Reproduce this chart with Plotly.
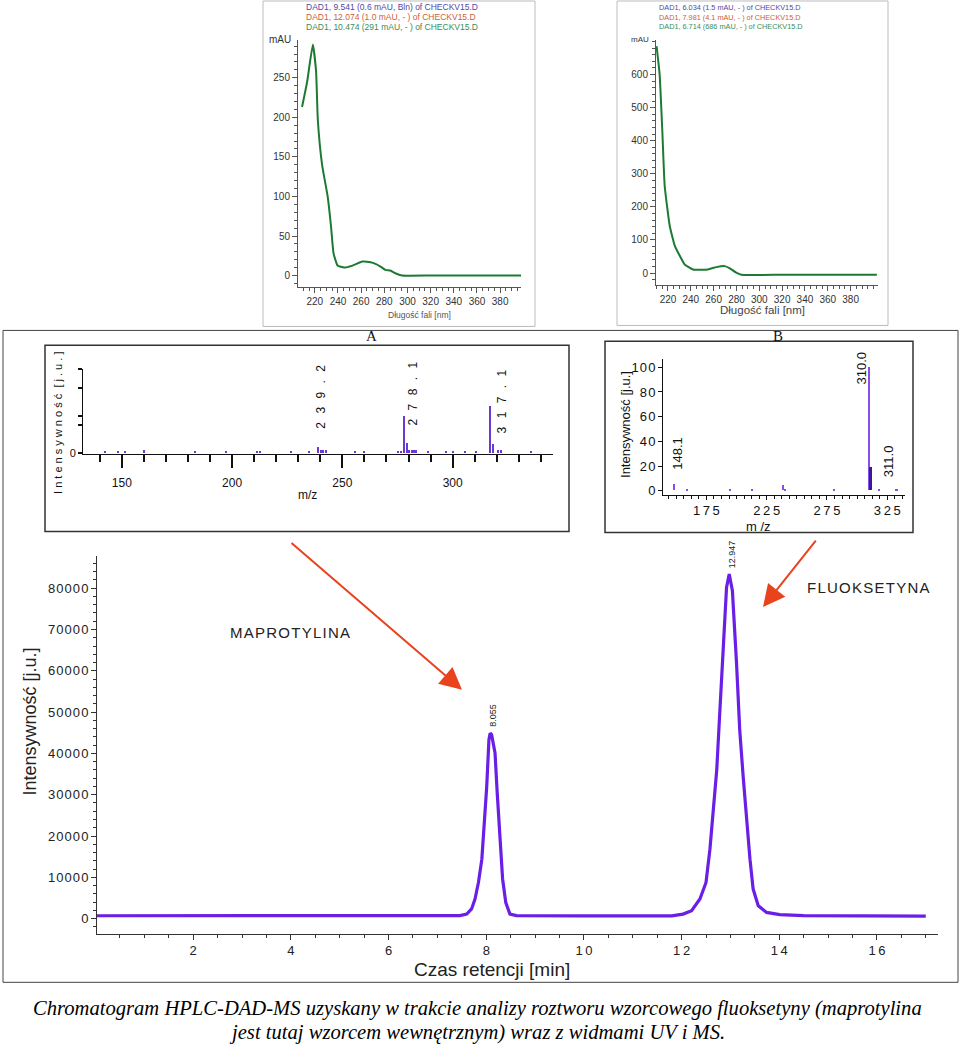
import plotly.graph_objects as go

# ---------------------------------------------------------------- data
uvA_wavelength = [209, 213.4, 218.3, 221.1, 222.6, 226.3, 231.1, 234, 236.2, 239.7, 245.4, 252.5,
                  261, 268.1, 272.4, 276.7, 280.9, 285.2, 289.5, 295.2, 320, 350, 398]
uvA_absorbance = [213, 245, 292, 258, 197, 140, 100, 62, 28, 12.6, 10.1, 12.6,
                  17.7, 16.8, 14.7, 11.4, 7.2, 6.3, 2.9, 0, 0, 0, 0]
uvA_legend = ["DAD1, 9.541 (0.6 mAU, Bln) of CHECKV15.D",
              "DAD1, 12.074 (1.0 mAU, - ) of CHECKV15.D",
              "DAD1, 10.474 (291 mAU, - ) of CHECKV15.D"]

uvB_wavelength = [210, 212.7, 215.1, 217.1, 221.5, 225.9, 230.2, 234.6, 241.9, 255, 262.3, 269.6,
                  273.9, 279.8, 284.1, 320, 360, 403]
uvB_absorbance = [686, 600, 424, 264, 143, 83, 53, 26, 11, 11, 18, 21,
                  15, 1, -5, -5, -5, -5]
uvB_legend = ["DAD1, 6.034 (1.5 mAU, - ) of CHECKV15.D",
              "DAD1, 7.981 (4.1 mAU, - ) of CHECKV15.D",
              "DAD1, 6.714 (686 mAU, - ) of CHECKV15.D"]

uv_xticks = [220, 240, 260, 280, 300, 320, 340, 360, 380]
uvA_yticks = [0, 50, 100, 150, 200, 250]
uvB_yticks = [0, 100, 200, 300, 400, 500, 600]

msA_mz = [142.4, 148.2, 151.5, 160.1, 183.2, 197.1, 211.2, 212.7, 226.6, 235.1, 239.2, 240.2,
          241.4, 242.5, 255.8, 259.8, 275.4, 276.5, 278.1, 279.2, 280.2, 281.5, 282.5, 283.4,
          289.0, 296.9, 300.3, 305.6, 310.6, 317.1, 318.2, 320.7, 321.8, 335.4]
msA_intensity = [2, 2, 2, 3, 2, 2, 2, 2, 2, 2, 6, 3,
                 3, 3, 2, 2, 2, 2, 37, 10, 3, 3, 3, 3,
                 2, 2, 2, 2, 2, 47, 9, 3, 3, 2]
msA_peak_mz = [239.2, 278.1, 317.1]
msA_peak_labels = ["239.2", "278.1", "317.1"]
msA_xticks = [150, 200, 250, 300]

msB_mz = [148.1, 159.1, 195.0, 213.3, 238.7, 240.4, 281.0, 310.0, 311.0, 318.4, 332.8]
msB_intensity = [5, 1, 1, 1, 4, 1, 1, 100, 19, 1, 1]
msB_peak_mz = [148.1, 310.0, 311.0]
msB_peak_labels = ["148.1", "310.0", "311.0"]
msB_xticks = [175, 225, 275, 325]
msB_yticks = [0, 20, 40, 60, 80, 100]

chrom_time = [0.03, 1, 2, 3, 4, 5, 6, 7, 7.46, 7.60, 7.70, 7.77, 7.84, 7.91, 7.96, 8.01, 8.055,
              8.08, 8.11, 8.18, 8.225, 8.28, 8.335, 8.40, 8.485, 8.62, 9, 10, 11, 11.8, 12.03,
              12.205, 12.375, 12.50, 12.58, 12.65, 12.72, 12.77, 12.825, 12.87, 12.92, 12.975,
              13.04, 13.125, 13.19, 13.26, 13.33, 13.40, 13.465, 13.57, 13.74, 14.01, 14.5, 15,
              15.5, 16, 16.3, 16.6, 17.0]
chrom_intensity = [700, 700, 700, 700, 700, 700, 700, 700, 720, 1100, 2340, 4750, 8750, 14400,
                   22400, 32000, 43300, 44900, 44500, 40100, 30400, 18400, 9600, 3900, 1100, 720,
                   650, 650, 650, 680, 1100, 1930, 4750, 8750, 16800, 25600, 36100, 47300, 60200,
                   72200, 80200, 83450, 79400, 61800, 45700, 34500, 24000, 14400, 7150, 3130,
                   1500, 960, 750, 700, 700, 650, 750, 600, 600]
chrom_peak_time = [8.08, 12.975]
chrom_peak_height = [44900, 83450]
chrom_peak_labels = ["8.055", "12.947"]
chrom_xticks = [2, 4, 6, 8, 10, 12, 14, 16]
chrom_yticks = [0, 10000, 20000, 30000, 40000, 50000, 60000, 70000, 80000]

# ---------------------------------------------------------------- helpers
W, H = 960, 1054
SANS = "Liberation Sans, Arial, sans-serif"
SERIF = "Liberation Serif, Times New Roman, serif"


def px(x):
    return x / W


def py(y):
    return 1 - y / H


def spaced(s, sep="\u200a"):
    return sep.join(list(s))


fig = go.Figure()

GREEN = "#1c7a32"
# UV spectra
fig.add_trace(go.Scatter(x=uvA_wavelength, y=uvA_absorbance, mode="lines",
                         line=dict(color=GREEN, width=2, shape="spline", smoothing=0.4),
                         xaxis="x", yaxis="y"))
fig.add_trace(go.Scatter(x=uvB_wavelength, y=uvB_absorbance, mode="lines",
                         line=dict(color=GREEN, width=2, shape="spline", smoothing=0.4),
                         xaxis="x2", yaxis="y2"))

# MS A
fig.add_trace(go.Bar(x=msA_mz, y=msA_intensity, width=0.55, marker=dict(color="#6a3ad0", line=dict(width=0)),
                     xaxis="x3", yaxis="y3"))
# MS B
msB_width = [2.4 if m == 311.0 else 1.4 for m in msB_mz]
msB_color = ["#3a1a9a" if m == 311.0 else "#8a4ee8" for m in msB_mz]
fig.add_trace(go.Bar(x=msB_mz, y=msB_intensity, width=msB_width,
                     marker=dict(color=msB_color, line=dict(width=0)),
                     xaxis="x4", yaxis="y4"))

# Chromatogram
fig.add_trace(go.Scatter(x=chrom_time, y=chrom_intensity, mode="lines",
                         line=dict(color="#6a1fe6", width=3.2),
                         xaxis="x5", yaxis="y5"))

# ---------------------------------------------------------------- axes
def base_axis(**kw):
    d = dict(showgrid=False, zeroline=False, showline=True, linecolor="#333", linewidth=1,
             ticks="outside", tickcolor="#333", tickwidth=1, fixedrange=True)
    d.update(kw)
    return d


layout = dict(
    width=W, height=H, margin=dict(l=0, r=0, t=0, b=0),
    paper_bgcolor="white", plot_bgcolor="rgba(0,0,0,0)", showlegend=False, bargap=0,
    font=dict(family=SANS, color="#222"),
)

# UV A
layout["xaxis"] = base_axis(domain=[px(298), px(521)], range=[205.5, 398], anchor="y",
                            tickvals=uv_xticks, ticklen=5, linecolor="#555", tickcolor="#555",
                            tickfont=dict(size=10, color="#333"),
                            minor=dict(dtick=5, tick0=0, ticklen=3, ticks="outside", tickcolor="#555"))
layout["yaxis"] = base_axis(domain=[py(288), py(40)], range=[-14, 298], anchor="x",
                            tickvals=uvA_yticks, ticklen=5, linecolor="#555", tickcolor="#555",
                            tickfont=dict(size=10, color="#333"),
                            minor=dict(dtick=10, tick0=0, ticklen=3, ticks="outside", tickcolor="#555"))
# UV B
layout["xaxis2"] = base_axis(domain=[px(656), px(878)], range=[209.5, 404], anchor="y2",
                             tickvals=uv_xticks, ticklen=5, linecolor="#555", tickcolor="#555",
                             tickfont=dict(size=10, color="#333"),
                             minor=dict(dtick=5, tick0=0, ticklen=3, ticks="outside", tickcolor="#555"))
layout["yaxis2"] = base_axis(domain=[py(286), py(40)], range=[-35, 705], anchor="x2",
                             tickvals=uvB_yticks, ticklen=5, linecolor="#555", tickcolor="#555",
                             tickfont=dict(size=10, color="#333"),
                             minor=dict(dtick=20, tick0=0, ticklen=3, ticks="outside", tickcolor="#555"))
# MS A
layout["xaxis3"] = base_axis(domain=[px(83), px(553)], range=[132.4, 345.5], anchor="y3",
                             tickvals=msA_xticks, ticklen=13, linecolor="#111", tickcolor="#111",
                             tickwidth=1.5, ticklabelstandoff=5,
                             tickfont=dict(size=12, color="#111"),
                             minor=dict(dtick=10, tick0=0, ticklen=7, ticks="outside", tickcolor="#111",
                                        tickwidth=1.5))
layout["yaxis3"] = base_axis(domain=[py(456), py(371)], range=[-1, 84], anchor="x3",
                             tickvals=[0, 28, 37, 65, 84], ticktext=["0", "", "", "", ""],
                             ticklen=4, linecolor="#111", tickcolor="#111", tickwidth=1.5,
                             tickfont=dict(size=11, color="#111"))
# MS B
layout["xaxis4"] = base_axis(domain=[px(663), px(905)], range=[139, 339.7], anchor="y4",
                             tickvals=msB_xticks, ticktext=[spaced(str(t), "\u2009") for t in msB_xticks],
                             ticklen=4, linecolor="#111", tickcolor="#111",
                             tickfont=dict(size=13, color="#111"),
                             minor=dict(dtick=6.25, tick0=0, ticklen=3, ticks="outside", tickcolor="#111"))
layout["yaxis4"] = base_axis(domain=[py(497), py(361)], range=[-3.2, 106.5], anchor="x4",
                             tickvals=msB_yticks, ticktext=[spaced(str(t), "\u200a") for t in msB_yticks],
                             ticklen=4, linecolor="#111", tickcolor="#111",
                             tickfont=dict(size=13, color="#111"))
# Chromatogram
layout["xaxis5"] = base_axis(domain=[px(97), px(938)], range=[0.03, 17.25], anchor="y5",
                             tickvals=chrom_xticks, ticktext=[spaced(str(t), "\u2009") for t in chrom_xticks],
                             ticklen=5, tickfont=dict(size=13, color="#222"),
                             minor=dict(dtick=0.5, tick0=0, ticklen=3, ticks="outside", tickcolor="#333"))
layout["yaxis5"] = base_axis(domain=[py(938), py(559)], range=[-3614, 87711], anchor="x5",
                             tickvals=chrom_yticks, ticktext=[spaced(str(t), "\u200a") for t in chrom_yticks],
                             ticklen=5, tickfont=dict(size=13, color="#222"),
                             minor=dict(dtick=2000, tick0=0, ticklen=3, ticks="outside", tickcolor="#333"))

# ---------------------------------------------------------------- frames
shapes = []


def rect(x0, y0, x1, y1, color, width):
    shapes.append(dict(type="rect", xref="paper", yref="paper", x0=px(x0), x1=px(x1),
                       y0=py(y1), y1=py(y0), line=dict(color=color, width=width),
                       fillcolor="rgba(0,0,0,0)", layer="below"))


rect(263, 1, 535, 328, "#bcbcbc", 1)
rect(617, 1, 888, 327, "#bcbcbc", 1)
rect(3, 332, 958, 987, "#444", 1)
rect(45, 347, 569, 534, "#333", 1.5)
rect(605, 343, 913, 535, "#333", 1.5)
layout["shapes"] = shapes

# ---------------------------------------------------------------- annotations
ann = []


def text(x, y, s, size, color="#222", family=SANS, angle=0, xanchor="center", yanchor="middle", **kw):
    d = dict(x=px(x), y=py(y), xref="paper", yref="paper", text=s, showarrow=False,
             font=dict(size=size, color=color, family=family), textangle=angle,
             xanchor=xanchor, yanchor=yanchor)
    d.update(kw)
    ann.append(d)


legend_colors = ["#5546a8", "#cc5e3c", "#3a8c5c"]
for i, s in enumerate(uvA_legend):
    text(304, 7.5 + 9.8 * i, s, 8.5, legend_colors[i], xanchor="left")
for i, s in enumerate(uvB_legend):
    text(657, 7.5 + 9.8 * i, s, 7.3, legend_colors[i], xanchor="left")

text(280, 40, "mAU", 10, "#333")
text(640, 40, "mAU", 8, "#333")
text(419, 317, "Długość fali [nm]", 8.5, "#555")
text(762, 311, "Długość fali [nm]", 11.5, "#444")

text(371, 338, "A", 15, "#111", family=SERIF)
text(778, 338, "B", 15, "#111", family=SERIF)

# MS A texts
text(58, 425, " ".join(list("Intensywność")) + "  " + " ".join(list("[j.u.]")), 11, "#111", angle=-90)
text(307, 497, "m/z", 12, "#111")
msA_label_shift = [3, 9, 12]
msA_label_y = [399, 395, 403]
for m, s, dx, yy in zip(msA_peak_mz, msA_peak_labels, msA_label_shift, msA_label_y):
    ann.append(dict(x=m, y=py(yy), xref="x3", yref="paper", text=spaced(s, "\u2002\u2009"),
                    showarrow=False, textangle=-90, xshift=dx,
                    font=dict(size=12, color="#111", family=SANS)))

# MS B texts
text(626, 427, "Intensywność [j.u.]", 13, "#111", angle=-90)
text(758, 529, "m /z", 13, "#111")
msB_label_shift = [4, -8, 18]
msB_label_y = [455, 370, 463]
for m, s, dx, yy in zip(msB_peak_mz, msB_peak_labels, msB_label_shift, msB_label_y):
    ann.append(dict(x=m, y=py(yy), xref="x4", yref="paper", text=s,
                    showarrow=False, textangle=-90, xshift=dx,
                    font=dict(size=13, color="#111", family=SANS)))

# Chromatogram texts
text(30, 725, "Intensywność [j.u.]", 18, "#222", angle=-90)
text(492, 974, "Czas retencji [min]", 19, "#222")
text(290, 636, spaced("MAPROTYLINA", "\u200a"), 15, "#222")
text(868, 590, spaced("FLUOKSETYNA", "\u200a"), 15, "#222")
for t, h, s in zip(chrom_peak_time, chrom_peak_height, chrom_peak_labels):
    ann.append(dict(x=t, y=h, xref="x5", yref="y5", text=s, showarrow=False, textangle=-90,
                    yanchor="bottom", yshift=4, xshift=3,
                    font=dict(size=9, color="#222", family=SANS)))

# arrows
RED = "#e8431c"
ann.append(dict(x=px(462), y=py(693), xref="paper", yref="paper", text="", showarrow=True,
                ax=290 - 462, ay=545 - 693, axref="pixel", ayref="pixel",
                arrowhead=2, arrowsize=2.2, arrowwidth=2, arrowcolor=RED, standoff=0))
ann.append(dict(x=px(763), y=py(610), xref="paper", yref="paper", text="", showarrow=True,
                ax=817 - 763, ay=542 - 610, axref="pixel", ayref="pixel",
                arrowhead=2, arrowsize=2.2, arrowwidth=2, arrowcolor=RED, standoff=0))

# caption
text(477, 1013, "<i>Chromatogram HPLC-DAD-MS uzyskany w trakcie analizy roztworu wzorcowego fluoksetyny (maprotylina</i>",
     20.6, "#000", family=SERIF)
text(477, 1037, "<i>jest tutaj wzorcem wewnętrznym) wraz z widmami UV i MS.</i>", 20.6, "#000", family=SERIF)

layout["annotations"] = ann
fig.update_layout(**layout)
fig.write_html("out.html", config={"displayModeBar": False})
